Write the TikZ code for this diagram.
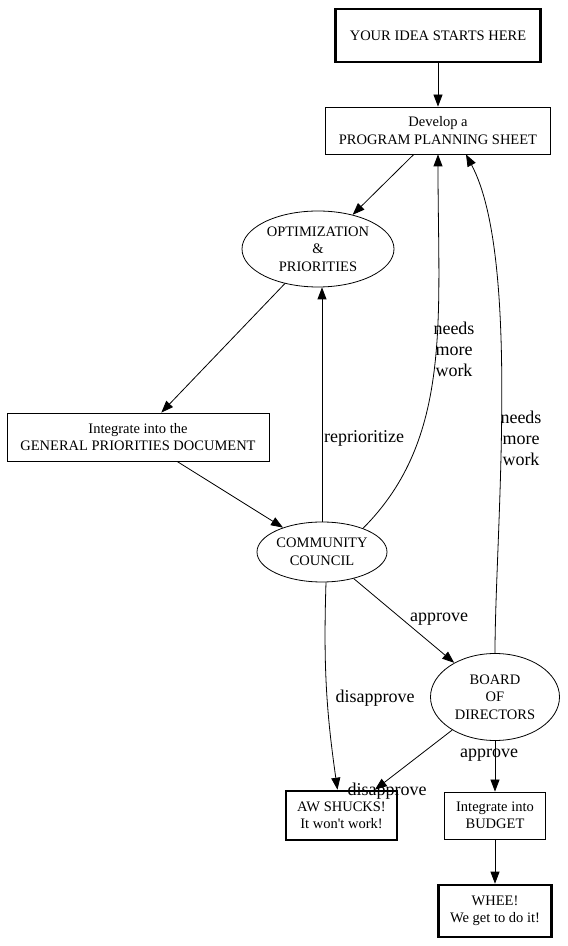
\documentclass[tikz,border=0pt]{standalone}
\usepackage{fontspec}
\setmainfont{Liberation Serif}[Ligatures=TeXOff]
\usetikzlibrary{shapes.geometric,arrows.meta}
\begin{document}
\begin{tikzpicture}[x=1pt, y=1pt,
  every node/.style={font=\fontsize{14.5}{17.5}\selectfont, align=center},
  box/.style={draw, line width=0.8pt, rectangle, inner sep=0pt},
  bigbox/.style={box, line width=2.6pt},
  oval/.style={draw, line width=0.8pt, ellipse, inner sep=0pt},
  lbl/.style={font=\fontsize{18}{21}\selectfont, inner sep=0pt},
  link/.style={line width=0.8pt, -{Triangle[length=12pt,width=9pt]}}
]
\fill[white] (0,0) rectangle (568,946);
\useasboundingbox (0,0) rectangle (568,946);
\node[bigbox, minimum width=205, minimum height=53] (idea) at (438,910.5) {YOUR IDEA STARTS HERE};
\node[box, minimum width=225, minimum height=47] (sheet) at (438,815.5) {Develop a\\PROGRAM PLANNING SHEET};
\node[oval, minimum width=152, minimum height=76] (optim) at (318,697) {OPTIMIZATION\\\&\\PRIORITIES};
\node[box, minimum width=262, minimum height=48] (gpd) at (138,509) {Integrate into the\\GENERAL PRIORITIES DOCUMENT};
\node[oval, minimum width=130, minimum height=60] (council) at (322,394) {COMMUNITY\\COUNCIL};
\node[oval, minimum width=129, minimum height=87] (board) at (495,249) {BOARD\\OF\\DIRECTORS};
\node[bigbox, minimum width=111, minimum height=49] (shucks) at (341.5,130.5) {AW SHUCKS!\\It won't work!};
\node[box, minimum width=101, minimum height=47] (budget) at (495,130.5) {Integrate into\\BUDGET};
\node[bigbox, minimum width=113, minimum height=52] (whee) at (495,35) {WHEE!\\We get to do it!};
% edges
\draw[link] (idea) -- (sheet);
\draw[link] (sheet) -- (optim);
\draw[link] (optim) -- (gpd);
\draw[link] (gpd) -- (council);
\draw[link] (council.north) -- (council.north |- optim.south);
\draw[link] (council.30) to[out=45, in=-90, out looseness=0.85, in looseness=1.1] (sheet.south);
\draw[link] (board.north) to[out=90, in=-62, looseness=0.6] ([xshift=28]sheet.south);
\draw[link] (council) -- (board);
\draw[link] ([xshift=4]council.south) to[bend right=5] ([xshift=-4]shucks.north);
\draw[link] (board) -- (shucks);
\draw[link] (board) -- (budget);
\draw[link] (budget) -- (whee);
% labels
\node[lbl, anchor=west] (reprio) at (324,508) {reprioritize};
\node[lbl] (work1) at (454,597) {needs\\more\\work};
\node[lbl] (work2) at (521,508) {needs\\more\\work};
\node[lbl] (ok1) at (439,327) {approve};
\node[lbl] (no1) at (375,248) {disapprove};
\node[lbl] (no2) at (387,155) {disapprove};
\node[lbl] (ok2) at (489,191) {approve};
\end{tikzpicture}
\end{document}
